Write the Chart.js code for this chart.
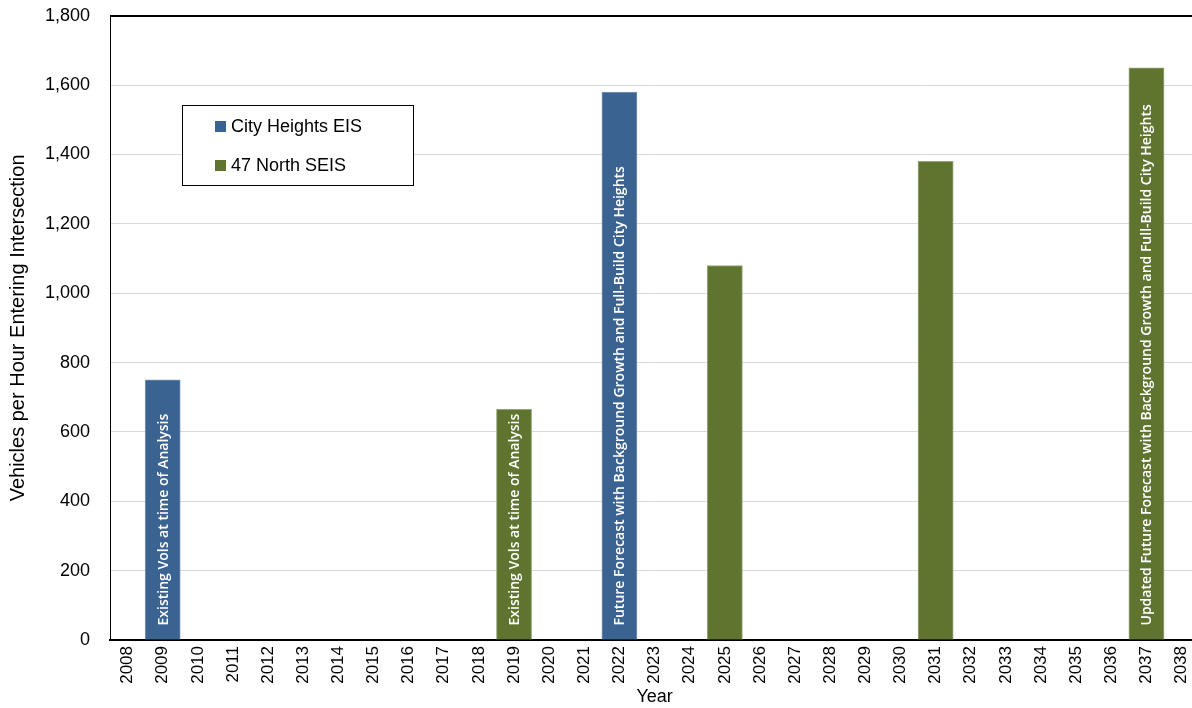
<!DOCTYPE html>
<html>
<head>
<meta charset="utf-8">
<script src="https://cdn.jsdelivr.net/npm/chart.js@4.4.1/dist/chart.umd.min.js"></script>
<style>
  html, body { margin: 0; padding: 0; background: #fff; overflow: hidden; }
  #wrap { width: 1208px; height: 708px; }
</style>
</head>
<body>
<div id="wrap"><canvas id="chart"></canvas></div>
<script>
const years = ['2008', '2009', '2010', '2011', '2012', '2013', '2014', '2015', '2016', '2017',
  '2018', '2019', '2020', '2021', '2022', '2023', '2024', '2025', '2026', '2027', '2028',
  '2029', '2030', '2031', '2032', '2033', '2034', '2035', '2036', '2037', '2038'];

const cityYears = ['2009', '2022'];
const cityValues = [750, 1580];
const cityNotes = ['Existing Vols at time of Analysis',
  'Future Forecast with Background Growth and Full-Build City Heights'];

const northYears = ['2019', '2025', '2031', '2037'];
const northValues = [665, 1080, 1380, 1650];
const northNotes = ['Existing Vols at time of Analysis', '', '',
  'Updated Future Forecast with Background Growth and Full-Build City Heights'];

const yTicks = [0, 200, 400, 600, 800, 1000, 1200, 1400, 1600, 1800];

const BLUE = '#3b6392';
const GREEN = '#5f752f';
const AXIS_FONT = "'Liberation Sans', Arial, sans-serif";

// white text written up the inside of each bar
const barNotes = {
  id: 'barNotes',
  afterDatasetsDraw(chart) {
    const ctx = chart.ctx;
    chart.data.datasets.forEach((ds, di) => {
      const meta = chart.getDatasetMeta(di);
      meta.data.forEach((bar, i) => {
        const text = ds.notes[i];
        if (!text) return;
        ctx.save();
        ctx.translate(bar.x, bar.base - 14);
        ctx.rotate(-Math.PI / 2);
        ctx.font = "600 14px 'Open Sans', sans-serif";
        ctx.fillStyle = '#ffffff';
        ctx.textAlign = 'left';
        ctx.textBaseline = 'middle';
        ctx.fillText(text, 0, 1);
        ctx.restore();
      });
    });
  }
};

// boxed legend floating inside the plot
const boxLegend = {
  id: 'boxLegend',
  afterDraw(chart, args, opts) {
    const ctx = chart.ctx;
    ctx.save();
    ctx.fillStyle = '#fff';
    ctx.fillRect(opts.x, opts.y, opts.w, opts.h);
    ctx.strokeStyle = '#000';
    ctx.lineWidth = 1;
    ctx.strokeRect(opts.x + 0.5, opts.y + 0.5, opts.w, opts.h);
    ctx.font = '18px ' + AXIS_FONT;
    ctx.textBaseline = 'middle';
    chart.data.datasets.forEach((ds, i) => {
      const cy = opts.y + 21 + i * 39;
      ctx.fillStyle = ds.backgroundColor;
      ctx.fillRect(opts.x + 33, cy - 5, 11, 11);
      ctx.fillStyle = '#000';
      ctx.fillText(ds.label, opts.x + 49, cy + 1);
    });
    ctx.restore();
  }
};

new Chart(document.getElementById('chart'), {
  type: 'bar',
  data: {
    labels: years,
    datasets: [
      {
        label: 'City Heights EIS',
        data: cityYears.map((x, i) => ({ x: x, y: cityValues[i] })),
        notes: cityNotes,
        backgroundColor: BLUE,
        borderColor: '#7d97b8',
        borderWidth: { top: 1, left: 1, right: 1, bottom: 0 },
        barPercentage: 1,
        categoryPercentage: 1
      },
      {
        label: '47 North SEIS',
        data: northYears.map((x, i) => ({ x: x, y: northValues[i] })),
        notes: northNotes,
        backgroundColor: GREEN,
        borderColor: '#97a47a',
        borderWidth: { top: 1, left: 1, right: 1, bottom: 0 },
        barPercentage: 1,
        categoryPercentage: 1
      }
    ]
  },
  options: {
    responsive: true,
    maintainAspectRatio: false,
    animation: false,
    layout: { padding: { top: 4, right: 2, left: 0, bottom: 0 } },
    plugins: {
      legend: { display: false },
      tooltip: { enabled: false },
      boxLegend: { x: 182, y: 105, w: 231, h: 80 }
    },
    scales: {
      x: {
        stacked: true,
        grid: { display: false, drawTicks: false },
        border: { display: true, color: '#000', width: 2 },
        ticks: {
          autoSkip: false,
          maxRotation: 90,
          minRotation: 90,
          padding: 6,
          color: '#000',
          font: { family: AXIS_FONT, size: 17 }
        },
        title: {
          display: true,
          text: 'Year',
          color: '#000',
          padding: { top: 0, bottom: 0 },
          font: { family: AXIS_FONT, size: 18 }
        },
        afterFit(scale) { scale.height = 68; }
      },
      y: {
        stacked: true,
        min: 0,
        max: 1800,
        afterBuildTicks(scale) { scale.ticks = yTicks.map(v => ({ value: v })); },
        grid: {
          drawTicks: true,
          tickLength: 15,
          tickColor: 'rgba(0,0,0,0)',
          color: ctx => ctx.tick && ctx.tick.value === 1800 ? '#000' : '#d9d9d9',
          lineWidth: ctx => ctx.tick && ctx.tick.value === 1800 ? 2 : 1
        },
        border: { display: true, color: '#000', width: 1 },
        ticks: {
          padding: 5,
          color: '#000',
          font: { family: AXIS_FONT, size: 18 },
          callback: v => v.toLocaleString('en-US')
        },
        title: {
          display: true,
          text: 'Vehicles per Hour Entering Intersection',
          color: '#000',
          padding: { top: 6, bottom: 0 },
          font: { family: AXIS_FONT, size: 20 }
        },
        afterFit(scale) { scale.width = 110; }
      }
    }
  },
  plugins: [barNotes, boxLegend]
});
</script>
</body>
</html>
